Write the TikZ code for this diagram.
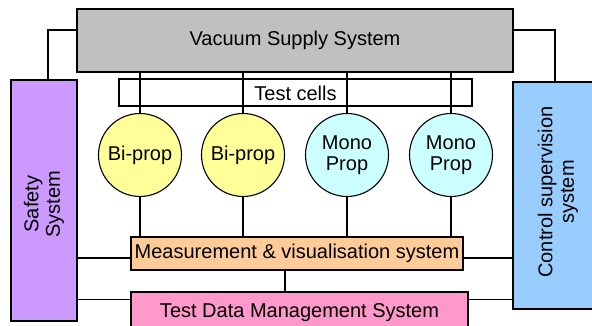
\documentclass[tikz,border=0pt]{standalone}
\usepackage{fontspec}
\setmainfont{Liberation Sans}
\begin{document}
\begin{tikzpicture}[x=1pt,y=-1pt,
  every node/.style={font=\fontsize{20}{21.5}\selectfont, inner sep=0pt, align=center},
  box/.style={draw=black, line width=1.1pt, rectangle},
  circ/.style={draw=black, line width=1.1pt, circle, minimum size=83pt},
  wire/.style={draw=black, line width=1.1pt}]
\useasboundingbox (0,0) rectangle (592,326);
\clip (0,0) rectangle (592,326);
\definecolor{vacgray}{HTML}{C0C0C0}
\definecolor{safepurple}{HTML}{CC99FF}
\definecolor{ctrlblue}{HTML}{99CCFF}
\definecolor{biyellow}{HTML}{FFFF99}
\definecolor{monocyan}{HTML}{CCFFFF}
\definecolor{measorange}{HTML}{FFCC99}
\definecolor{tdmpink}{HTML}{FF99CC}

\node[box, fill=vacgray, minimum width=436pt, minimum height=63pt] (vac) at (295,40.5) {Vacuum Supply System};
\node[box, fill=safepurple, minimum width=66pt, minimum height=241pt] (safety) at (44,200.5) {};
\node[rotate=90] (safetytxt) at (44,204) {Safety\\System};
\node[box, fill=ctrlblue, minimum width=84pt, minimum height=227pt] (control) at (555,195.5) {};
\node[rotate=90] (controltxt) at (558,192) {Control supervision\\system};
\node[box, minimum width=353pt, minimum height=27pt] (cells) at (295.5,92.5) {};
\node (cellstxt) at (295.5,93) {Test cells};

\node[circ, fill=biyellow] (c1) at (140,155) {Bi-prop};
\node[circ, fill=biyellow] (c2) at (243,155) {Bi-prop};
\node[circ, fill=monocyan] (c3) at (347,155) {Mono\\Prop};
\node[circ, fill=monocyan] (c4) at (451,155) {Mono\\Prop};

\node[box, fill=measorange, minimum width=332pt, minimum height=33pt] (meas) at (297,253.5) {Measurement \& visualisation system};
\node[box, fill=tdmpink, minimum width=337pt, minimum height=42pt] (tdm) at (299.5,313) {Test Data Management System};

% vacuum to safety and control
\draw[wire] ([yshift=10.5pt]vac.west) -| ([xshift=4pt]safety.north);
\draw[wire] ([yshift=10.5pt]vac.east) -| (control.north);

% vacuum to cells
\foreach \c in {c1,c2,c3,c4}{
  \draw[wire] (\c |- vac.south) -- (\c.north);
  \draw[wire] (\c.south) -- (\c |- meas.north);
}

% measurement to tdm
\draw[wire] ([xshift=-12pt]meas.south) -- ([xshift=-12pt]meas.south |- tdm.north);

% side links
\draw[wire] ([yshift=-4.5pt]meas.west) -- ([yshift=-4.5pt]meas.west -| safety.east);
\draw[wire] ([yshift=-4.5pt]meas.east) -- ([yshift=-4.5pt]meas.east -| control.west);
\draw[wire] ([yshift=-8pt]tdm.north west) -- ([yshift=-8pt]tdm.north west -| safety.east);
\draw[wire] ([yshift=-8pt]tdm.north east) -- ([yshift=-8pt]tdm.north east -| control.west);
\end{tikzpicture}
\end{document}
